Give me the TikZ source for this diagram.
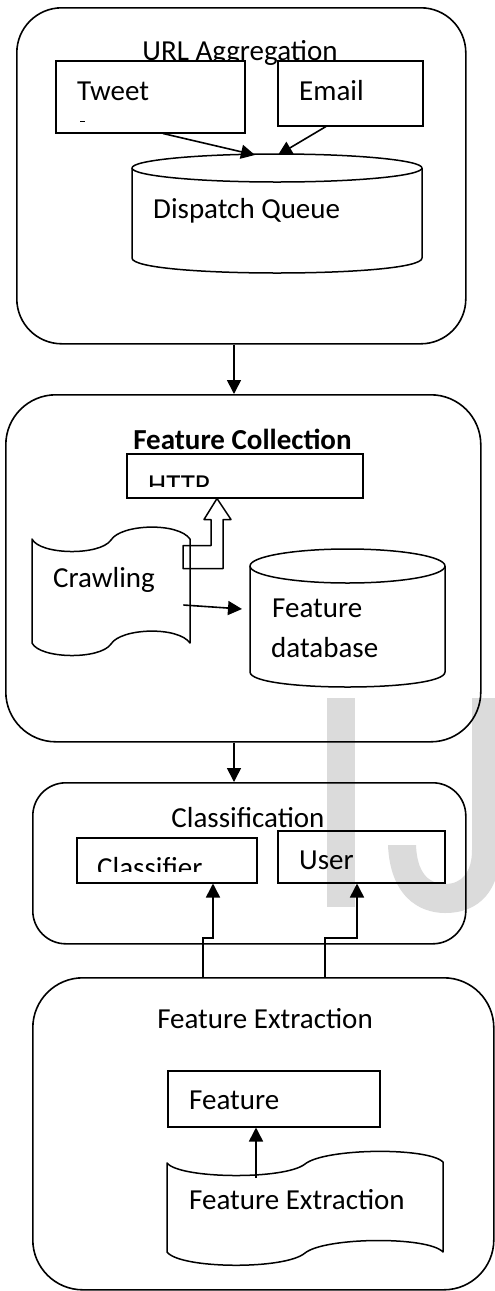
\documentclass[tikz,border=0pt]{standalone}
\usepackage{fontspec}
\setmainfont{Carlito}
\usetikzlibrary{arrows.meta,calc}

\tikzset{
  group/.style={draw, line width=1.6pt, inner sep=0pt, anchor=north west},
  box/.style={draw, line width=1.5pt, inner sep=0pt, anchor=north west},
  area/.style={inner sep=0pt, anchor=north west},
  outline/.style={line width=1.5pt, line join=round},
  lbl/.style={anchor=base west, inner sep=0pt, font=\fontsize{29}{34}\selectfont},
  ttl/.style={anchor=base, inner sep=0pt, font=\fontsize{29}{34}\selectfont},
  conn/.style={line width=1.6pt, -{Triangle[length=14pt,width=14pt]}},
  wmark/.style={fill=black!14, draw=none},
}

\begin{document}
\begin{tikzpicture}[x=1pt,y=-1pt]
\useasboundingbox (0,0) rectangle (495,1291);

% publisher watermark in light grey, behind everything
\begin{scope}
  \clip (0,0) rectangle (495,1291);
  \fill[wmark] (327,698) rectangle (355,907);
  \fill[wmark] (388,845) .. controls (390,895) and (418,913) .. (445,913)
     .. controls (480,913) and (500,890) .. (500,850) -- (500,698) -- (472,698)
     -- (472,850) .. controls (472,872) and (462,884) .. (445,884)
     .. controls (428,884) and (417,872) .. (416,845) -- cycle;
\end{scope}

% ---------- URL Aggregation ----------
\node[group, rounded corners=45pt, minimum width=449pt, minimum height=336pt] (ua) at (16,7) {};
\node[ttl] (uat) at (240,60) {URL Aggregation};
\node[box, fill=white, minimum width=189pt, minimum height=72pt] (tweet) at (55,60) {};
\node[box, fill=white, minimum width=145pt, minimum height=65pt] (email) at (277,60) {};
\node[lbl] (tweetl) at (77,100) {Tweet};
\draw[line width=1.2pt] (80,121.5) -- (85,121.5);
\node[lbl] (emaill) at (299,100) {Email};

\node[area, minimum width=290pt, minimum height=119pt] (dq) at (132,154) {};
\draw[outline] (277,168) ellipse [x radius=145, y radius=14];
\draw[outline] (132,168) -- (132,258) .. controls (132,278) and (422,278) .. (422,258) -- (422,168);
\node[lbl] (dql) at (153,218) {Dispatch Queue};

\draw[conn] ($(tweet.south west)+(108,0)$) -- ($(dq.north west)+(123,1)$);
\draw[conn] ($(email.south west)+(49,0)$) -- ($(dq.north west)+(146,1)$);

% ---------- Feature Collection ----------
\node[group, rounded corners=50pt, minimum width=475pt, minimum height=347pt] (fc) at (5,394) {};
\node[ttl, font=\fontsize{29}{34}\selectfont\bfseries] (fct) at (242.5,449) {Feature Collection};
\node[box, fill=white, minimum width=236pt, minimum height=44pt] (http) at (126,453) {};
\begin{scope}
  \clip (126,453) rectangle (362,486);
  \node[lbl] (httpl) at (148,494) {HTTP};
\end{scope}

% punched-tape shape for the crawler
\node[area, minimum width=158pt, minimum height=131pt] (crawl) at (32,527) {};
\draw[outline] (32,539) .. controls (40,555) and (100,556) .. (111,540)
  .. controls (121,524) and (178,522) .. (190,539)
  -- (190,643) .. controls (178,626) and (121,628) .. (111,644)
  .. controls (100,660) and (40,659) .. (32,643) -- cycle;
\node[lbl] (crawll) at (53,587) {Crawling};

% hollow bent arrow from crawling up to HTTP
\draw[outline] ($(http.south west)+(57,47)$) -- ++(28,0) -- ++(0,-26) -- ++(-7,0)
  -- ++(13,-21) -- ++(14,21) -- ++(-8,0) -- ++(0,49) -- ++(-40,0) -- cycle;

\node[area, minimum width=195pt, minimum height=138pt] (db) at (250,549) {};
\draw[outline] (347.5,566) ellipse [x radius=97.5, y radius=17];
\draw[outline] (250,566) -- (250,672) .. controls (250,692) and (445,692) .. (445,672) -- (445,566);
\node[lbl] (dbl1) at (272,617) {Feature};
\node[lbl] (dbl2) at (271,657) {database};

\draw[conn] ($(crawl.north east)+(-7,78)$) -- ($(db.north west)+(-8,60)$);

\draw[conn] ($(ua.south west)+(218,0)$) -- ($(fc.north west)+(229,0)$);

% ---------- Classification ----------
\node[group, rounded corners=33pt, minimum width=433pt, minimum height=161pt] (cl) at (32,782) {};
\node[ttl] (clt) at (248,827) {Classification};
\node[box, minimum width=180pt, minimum height=45pt] (clf) at (76,837) {};
\begin{scope}
  \clip (76,837) rectangle (256,871);
  \node[lbl] (clfl) at (97,877) {Classifier};
\end{scope}
\node[box, minimum width=167pt, minimum height=52pt] (user) at (277,830) {};
\node[lbl] (userl) at (299,869) {User};

\draw[conn] ($(fc.south west)+(229,0)$) -- ($(cl.north west)+(202,0)$);

% ---------- Feature Extraction ----------
\node[group, rounded corners=50pt, minimum width=461pt, minimum height=312pt] (fe) at (32,977) {};
\node[ttl] (fet) at (265,1028) {Feature Extraction};
\node[box, minimum width=212pt, minimum height=56pt] (feat) at (167,1070) {};
\node[lbl] (featl) at (189,1109) {Feature};

\node[area, minimum width=276pt, minimum height=119pt] (fx) at (167,1150) {};
\draw[outline] (167,1163) .. controls (180,1179) and (285,1180) .. (305,1164)
  .. controls (325,1148) and (428,1147) .. (443,1162)
  -- (443,1252) .. controls (428,1236) and (325,1237) .. (305,1253)
  .. controls (285,1270) and (180,1269) .. (167,1252) -- cycle;
\node[lbl] (fxl) at (189,1209) {Feature Extraction};

\draw[conn] ($(fx.north west)+(89,28)$) -- ($(feat.south west)+(89,0)$);

\draw[conn] ($(fe.north west)+(171,0)$) -- ++(0,-39) -| ($(clf.south west)+(137,0)$);
\draw[conn] ($(fe.north west)+(293,0)$) -- ++(0,-39) -| ($(user.south west)+(80,0)$);
\end{tikzpicture}
\end{document}
